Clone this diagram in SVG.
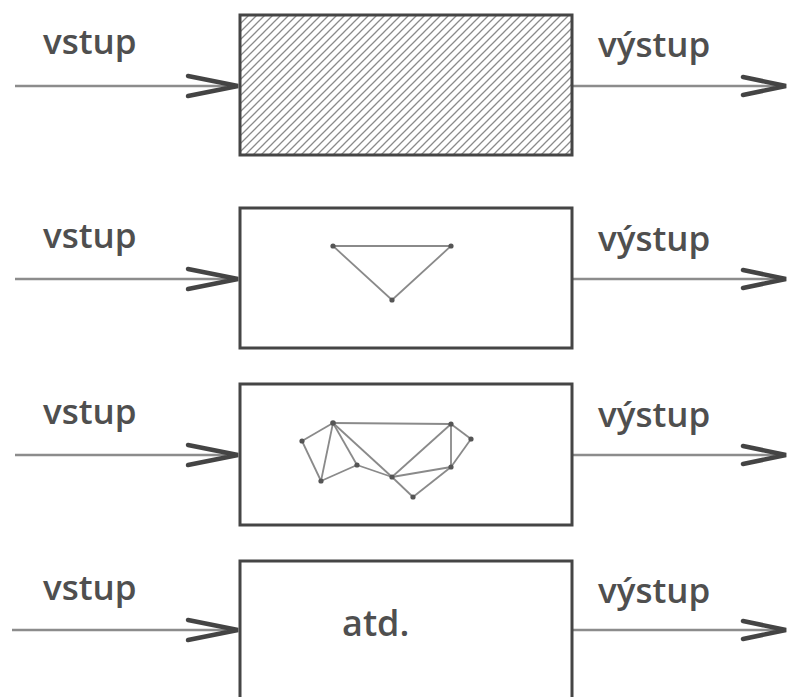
<svg xmlns="http://www.w3.org/2000/svg" width="790" height="697" viewBox="0 0 790 697">
  <style>
    .box { fill: #fff; stroke: #454545; stroke-width: 3; }
    .flow { stroke: #8c8c8c; stroke-width: 2.4; fill: none; }
    .head { stroke: #444; stroke-width: 4.5; fill: none; stroke-linecap: round; stroke-linejoin: miter; }
    .lbl { font-family: "Open Sans", "DejaVu Sans", sans-serif; font-size: 35px; font-weight: 600; fill: #4f4f4f; }
    .edge { stroke: #8a8a8a; stroke-width: 1.8; fill: none; }
    .dot { fill: #555; }
  </style>
  <defs>
    <pattern id="hatch" patternUnits="userSpaceOnUse" width="8" height="8">
      <path d="M0,8 L8,0 M-2,2 L2,-2 M6,10 L10,6" stroke="#8a8a8a" stroke-width="1.3"/>
    </pattern>
  </defs>

  <!-- connectors: input and output arrows of each stage -->
  <g id="connectors">
    <line class="flow" x1="15" y1="86" x2="238" y2="86"/>
    <polyline class="head" points="188,76 238,86 188,96"/>
    <line class="flow" x1="572" y1="86" x2="786" y2="86"/>
    <polyline class="head" points="743,77 786,86 743,95"/>

    <line class="flow" x1="15" y1="279" x2="238" y2="279"/>
    <polyline class="head" points="188,269 238,279 188,289"/>
    <line class="flow" x1="572" y1="279" x2="786" y2="279"/>
    <polyline class="head" points="743,270 786,279 743,288"/>

    <line class="flow" x1="15" y1="455" x2="238" y2="455"/>
    <polyline class="head" points="188,445 238,455 188,465"/>
    <line class="flow" x1="572" y1="455" x2="786" y2="455"/>
    <polyline class="head" points="743,446 786,455 743,464"/>

    <line class="flow" x1="12" y1="630" x2="238" y2="630"/>
    <polyline class="head" points="188,620 238,630 188,640"/>
    <line class="flow" x1="572" y1="630" x2="786" y2="630"/>
    <polyline class="head" points="743,621 786,630 743,639"/>
  </g>

  <!-- labels -->
  <g id="labels">
    <text class="lbl" x="43" y="54">vstup</text>
    <text class="lbl" x="598" y="57">výstup</text>
    <text class="lbl" x="43" y="248">vstup</text>
    <text class="lbl" x="598" y="251">výstup</text>
    <text class="lbl" x="43" y="424">vstup</text>
    <text class="lbl" x="598" y="427">výstup</text>
    <text class="lbl" x="43" y="600">vstup</text>
    <text class="lbl" x="598" y="603">výstup</text>
  </g>

  <!-- stage 1: hatched black box -->
  <g id="stage1">
    <rect class="box" x="240" y="15" width="332" height="140" style="fill:url(#hatch)"/>
  </g>

  <!-- stage 2: simple triangle -->
  <g id="stage2">
    <rect class="box" x="240" y="208" width="332" height="140"/>
    <polygon class="edge" points="333,246 451,246 392,300"/>
    <circle class="dot" cx="333" cy="246" r="2.6"/>
    <circle class="dot" cx="451" cy="246" r="2.6"/>
    <circle class="dot" cx="392" cy="300" r="2.6"/>
  </g>

  <!-- stage 3: mesh network -->
  <g id="stage3">
    <rect class="box" x="240" y="384" width="332" height="141"/>
    <g class="edge">
      <line x1="302" y1="441" x2="333" y2="423"/>
      <line x1="302" y1="441" x2="321" y2="481"/>
      <line x1="333" y1="423" x2="321" y2="481"/>
      <line x1="333" y1="423" x2="451" y2="424"/>
      <line x1="333" y1="423" x2="357" y2="465"/>
      <line x1="333" y1="423" x2="392" y2="477"/>
      <line x1="321" y1="481" x2="357" y2="465"/>
      <line x1="357" y1="465" x2="392" y2="477"/>
      <line x1="392" y1="477" x2="451" y2="424"/>
      <line x1="392" y1="477" x2="451" y2="467"/>
      <line x1="392" y1="477" x2="413" y2="497"/>
      <line x1="413" y1="497" x2="451" y2="467"/>
      <line x1="451" y1="424" x2="451" y2="467"/>
      <line x1="451" y1="424" x2="471" y2="439"/>
      <line x1="471" y1="439" x2="451" y2="467"/>
    </g>
    <g class="dot">
      <circle cx="302" cy="441" r="2.6"/>
      <circle cx="333" cy="423" r="2.8"/>
      <circle cx="321" cy="481" r="2.6"/>
      <circle cx="357" cy="465" r="2.6"/>
      <circle cx="392" cy="477" r="2.6"/>
      <circle cx="413" cy="497" r="2.6"/>
      <circle cx="451" cy="424" r="2.6"/>
      <circle cx="471" cy="439" r="2.6"/>
      <circle cx="451" cy="467" r="2.6"/>
    </g>
  </g>

  <!-- stage 4: and so on -->
  <g id="stage4">
    <rect class="box" x="240" y="561" width="332" height="150"/>
    <text class="lbl" x="342" y="636" style="font-size:36px">atd.</text>
  </g>
</svg>
